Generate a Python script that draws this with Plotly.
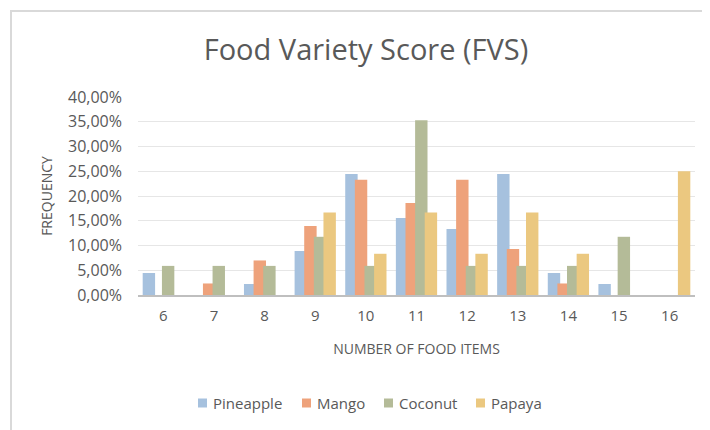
import plotly.graph_objects as go

items = ["6", "7", "8", "9", "10", "11", "12", "13", "14", "15", "16"]
pineapple = [4.44, 0, 2.22, 8.89, 24.44, 15.56, 13.33, 24.44, 4.44, 2.22, 0]
mango = [0, 2.33, 6.98, 13.95, 23.26, 18.60, 23.26, 9.30, 2.33, 0, 0]
coconut = [5.88, 5.88, 5.88, 11.76, 5.88, 35.29, 5.88, 5.88, 5.88, 11.76, 0]
papaya = [0, 0, 0, 16.67, 8.33, 16.67, 8.33, 16.67, 8.33, 0, 25.00]

series = [
    ("Pineapple", pineapple, "#a6c1de"),
    ("Mango", mango, "#eea27b"),
    ("Coconut", coconut, "#b4bb98"),
    ("Papaya", papaya, "#ebc880"),
]
# left edge (screen px) of each legend key, as in the source
legend_left = [198, 302, 384, 476]

FONT = "Open Sans"
GREY = "#595959"

fig = go.Figure()
slot = 0.19
bw = 0.245
for i, (name, vals, col) in enumerate(series):
    centre = (i - 1.5) * slot
    fig.add_trace(go.Bar(
        x=list(range(len(items))), y=[v / 100 for v in vals], name=name,
        marker=dict(color=col, line=dict(width=0)),
        width=bw, offset=centre - bw / 2, showlegend=False,
    ))

# page body has an 8px margin, so figure coords = screen coords - 8
fig.update_layout(
    width=710, height=430,
    margin=dict(l=130, r=23, t=89, b=143, autoexpand=False),
    paper_bgcolor="white", plot_bgcolor="white",
    barmode="overlay",
    separators=", ",
    font=dict(family=FONT, color=GREY, size=13),
    title=dict(text="Food Variety Score (FVS)", x=358 / 710, xref="container", xanchor="center",
               y=1 - 42 / 430, yref="container", yanchor="middle",
               font=dict(family=FONT, size=29, color=GREY)),
)

fig.update_xaxes(
    tickmode="array", tickvals=list(range(len(items))), ticktext=items,
    range=[-0.5, len(items) - 0.5], automargin=False,
    showgrid=False, showline=True, linecolor="#bfbfbf", linewidth=2,
    ticks="", tickfont=dict(size=15, color=GREY), ticklabelstandoff=6,
    title=dict(text="NUMBER OF FOOD ITEMS", font=dict(size=14, color=GREY), standoff=20),
)
fig.update_yaxes(
    range=[0, 0.4], dtick=0.05, tickformat=".2%", automargin=False,
    showgrid=True, gridcolor="#e6e6e6", gridwidth=1,
    zeroline=False, showline=False, ticks="",
    tickfont=dict(size=16, color=GREY), ticklabelstandoff=15,
    title=dict(text="FREQUENCY", font=dict(size=14, color=GREY), standoff=12),
)

px = lambda x: (x - 138) / 557
py = lambda y: (295 - y) / 198

# hand-made legend: small square keys close to their labels
ly = 403
for (name, _, col), left in zip(series, legend_left):
    fig.add_shape(type="rect", xref="paper", yref="paper",
                  x0=px(left), x1=px(left + 9), y0=py(ly + 4.5), y1=py(ly - 4.5),
                  line=dict(width=0), fillcolor=col)
    fig.add_annotation(text=name, xref="paper", yref="paper", x=px(left + 13), y=py(ly),
                       xanchor="left", yanchor="middle", showarrow=False,
                       font=dict(size=15, color=GREY))

# chart-area border like the source
fig.add_shape(type="rect", xref="paper", yref="paper",
              x0=px(11), x1=px(740), y0=py(460), y1=py(11),
              line=dict(color="#d9d9d9", width=2), fillcolor="rgba(0,0,0,0)", layer="below")

fig.write_html("out.html")
